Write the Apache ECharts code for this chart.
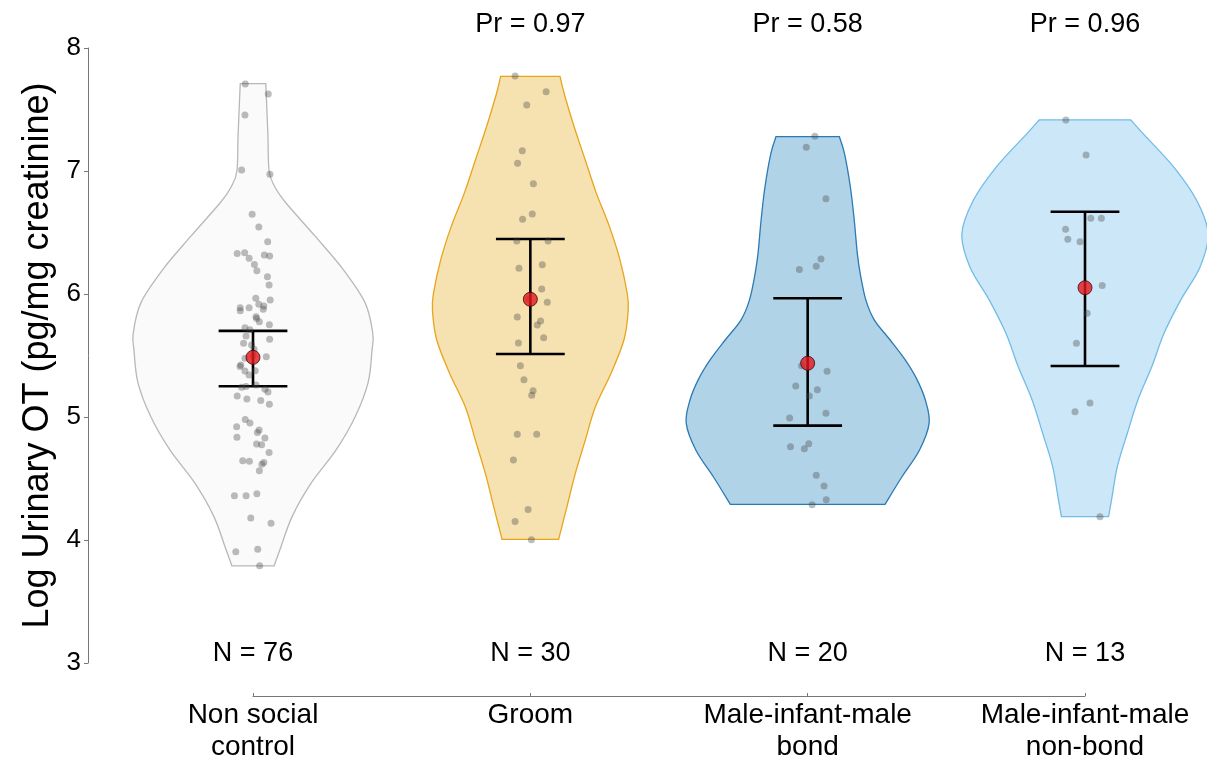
<!DOCTYPE html>
<html>
<head>
<meta charset="utf-8">
<script src="https://cdn.jsdelivr.net/npm/echarts@6/dist/echarts.min.js"></script>
<style>
html, body { margin: 0; padding: 0; background: #fff; }
#main { width: 1207px; height: 759px; }
</style>
</head>
<body>
<div id="main"></div>
<script>
var categories = ['Non social\ncontrol', 'Groom', 'Male-infant-male\nbond', 'Male-infant-male\nnon-bond'];
var nLabels = ['N = 76', 'N = 30', 'N = 20', 'N = 13'];
var prLabels = ['', 'Pr = 0.97', 'Pr = 0.58', 'Pr = 0.96'];
var yTicks = [3, 4, 5, 6, 7, 8];

// individual samples (log urinary OT) and horizontal jitter (x-axis units)
var nonSocialValues = [7.707, 7.626, 7.455, 7.008, 6.973, 6.648, 6.545, 6.425, 6.33, 6.336, 6.29, 6.317, 6.309, 6.24, 6.19, 6.14, 6.073, 5.965, 5.951, 5.916, 5.902, 5.889, 5.889, 5.864, 5.876, 5.816,
  5.80, 5.775, 5.75, 5.726, 5.659, 5.632, 5.60, 5.585, 5.49, 5.477, 5.423, 5.41, 5.374, 5.377, 5.341, 5.241, 5.247, 5.225, 5.203, 5.171, 5.146, 5.135, 5.103, 4.98, 4.951, 4.921, 4.894, 4.875, 4.835, 4.829, 4.78, 4.775, 4.712, 4.645, 4.64, 4.63, 4.615, 4.563, 4.36, 4.36, 4.377, 4.179, 4.136, 3.905, 3.924, 3.79,
  5.50, 5.71, 5.26, 5.55];
var nonSocialJitter = [-0.028, 0.055, -0.029, -0.041, 0.061, -0.003, 0.021, 0.053, -0.057, -0.030, -0.014, 0.041, 0.060, 0.005, 0.014, 0.052, 0.058, 0.010, 0.062, 0.021, 0.039, -0.046, -0.014, -0.046, 0.037, 0.011,
  0.013, 0.023, 0.059, -0.029, -0.025, 0.060, -0.034, -0.005, 0.048, -0.029, -0.044, -0.047, -0.029, 0.008, -0.014, -0.041, -0.025, 0.043, 0.054, -0.057, -0.022, 0.028, 0.059, -0.028, -0.011, -0.059, 0.022, 0.016, -0.058, 0.043, 0.013, 0.031, 0.058, -0.037, -0.013, 0.039, 0.032, 0.023, -0.067, -0.025, 0.014, -0.008, 0.065, -0.062, 0.017, 0.024,
  0, -0.011, 0.011, 0.004];
var groomValues = [7.772, 7.645, 7.537, 7.165, 7.062, 6.897, 6.65, 6.607, 6.431, 6.431, 6.209, 6.238, 6.041, 5.933, 5.813, 5.78, 5.748, 5.645, 5.602, 5.417, 5.303, 5.214, 5.176, 4.859, 4.859, 4.65, 4.247, 4.15, 4.003, 5.96];
var groomJitter = [-0.055, 0.057, -0.013, -0.029, -0.046, 0.011, 0.007, -0.028, -0.049, 0.064, -0.041, 0.043, 0.041, 0.061, -0.047, 0.037, 0.025, 0.048, -0.043, -0.036, -0.023, 0.010, 0.005, -0.047, 0.023, -0.061, -0.008, -0.055, 0.004, -0.007];
var bondValues = [7.282, 7.193, 6.775, 6.285, 6.225, 6.2, 5.417, 5.371, 5.252, 5.222, 5.171, 5.03, 4.992, 4.759, 4.783, 4.742, 4.526, 4.439, 4.328, 4.287];
var bondJitter = [0.026, -0.005, 0.066, 0.048, 0.031, -0.030, -0.022, 0.070, -0.043, 0.035, 0.006, 0.066, -0.065, -0.062, 0.004, -0.012, 0.031, 0.059, 0.067, 0.016];
var nonBondValues = [7.415, 7.13, 6.615, 6.615, 6.526, 6.445, 6.425, 6.07, 5.843, 5.599, 5.114, 5.043, 4.19];
var nonBondJitter = [-0.069, 0.004, 0.021, 0.059, -0.070, -0.062, -0.018, 0.062, 0.008, -0.031, 0.018, -0.036, 0.054];

// group summaries
var means = [5.485, 5.957, 5.437, 6.051];
var lower = [5.25, 5.512, 4.93, 5.415];
var upper = [5.70, 6.447, 5.965, 6.669];

// violin density outlines: levels (y) and half-widths (x-axis units)
var nonSocialLevels = [3.79, 3.92, 4.19, 4.46, 4.73, 5.0, 5.28, 5.54, 5.68, 5.93, 6.2, 6.47, 6.74, 6.87, 7.0, 7.28, 7.5, 7.71];
var nonSocialWidths = [0.076, 0.097, 0.141, 0.209, 0.299, 0.368, 0.415, 0.429, 0.432, 0.404, 0.325, 0.224, 0.119, 0.079, 0.058, 0.054, 0.050, 0.046];
var groomLevels = [4.005, 4.27, 4.54, 4.81, 5.08, 5.36, 5.63, 5.87, 6.01, 6.28, 6.55, 6.82, 7.09, 7.36, 7.63, 7.77];
var groomWidths = [0.102, 0.132, 0.162, 0.198, 0.234, 0.292, 0.338, 0.353, 0.349, 0.323, 0.285, 0.238, 0.198, 0.158, 0.122, 0.107];
var bondLevels = [4.29, 4.51, 4.73, 4.95, 5.14, 5.31, 5.47, 5.63, 5.79, 5.95, 6.16, 6.33, 6.60, 6.87, 7.14, 7.28];
var bondWidths = [0.279, 0.339, 0.403, 0.438, 0.424, 0.393, 0.350, 0.296, 0.240, 0.210, 0.190, 0.179, 0.168, 0.154, 0.133, 0.114];
var nonBondLevels = [4.19, 4.33, 4.60, 4.87, 5.14, 5.41, 5.68, 5.95, 6.22, 6.49, 6.76, 7.03, 7.31, 7.415];
var nonBondWidths = [0.085, 0.096, 0.117, 0.153, 0.191, 0.241, 0.285, 0.345, 0.415, 0.444, 0.403, 0.321, 0.207, 0.165];

var levels = [nonSocialLevels, groomLevels, bondLevels, nonBondLevels];
var widths = [nonSocialWidths, groomWidths, bondWidths, nonBondWidths];
var values = [nonSocialValues, groomValues, bondValues, nonBondValues];
var jitter = [nonSocialJitter, groomJitter, bondJitter, nonBondJitter];

var fills = ['#fafafa', '#f6e1b0', '#b1d3e8', '#cce7f7'];
var strokes = ['#b8b8b8', '#e8a51c', '#2a7ab5', '#72bce8'];
var CAP = 0.124;
var PR_Y = 8.19, N_Y = 3.08;

// smooth curve through points (catmull-rom -> cubic bezier)
function curve(p) {
  var s = '';
  for (var i = 0; i < p.length - 1; i++) {
    var p0 = p[Math.max(i - 1, 0)], p1 = p[i], p2 = p[i + 1], p3 = p[Math.min(i + 2, p.length - 1)];
    var c1 = [p1[0] + (p2[0] - p0[0]) / 6, p1[1] + (p2[1] - p0[1]) / 6];
    var c2 = [p2[0] - (p3[0] - p1[0]) / 6, p2[1] - (p3[1] - p1[1]) / 6];
    s += 'C' + c1.join(',') + ' ' + c2.join(',') + ' ' + p2.join(',');
  }
  return s;
}

function renderViolin(params, api) {
  var g = params.dataIndex, c = g + 1;
  var lv = levels[g], wd = widths[g];
  var left = [], right = [];
  for (var i = 0; i < lv.length; i++) {
    left.push(api.coord([c - wd[i], lv[i]]));
    right.push(api.coord([c + wd[i], lv[i]]));
  }
  var sideL = left.slice().reverse();
  var d = 'M' + sideL[0].join(',') + curve(sideL) + 'L' + right[0].join(',') + curve(right) + 'Z';
  return {
    type: 'path',
    shape: { pathData: d },
    style: { fill: fills[g], stroke: strokes[g], lineWidth: 1.3 }
  };
}

function renderErr(params, api) {
  var c = api.value(0);
  var lo = api.value(1), hi = api.value(2);
  var pLo = api.coord([c, lo]), pHi = api.coord([c, hi]);
  var a1 = api.coord([c - CAP, lo]), a2 = api.coord([c + CAP, lo]);
  var b1 = api.coord([c - CAP, hi]), b2 = api.coord([c + CAP, hi]);
  var st = { stroke: '#000', lineWidth: 2.6 };
  return {
    type: 'group',
    children: [
      { type: 'line', shape: { x1: pLo[0], y1: pLo[1], x2: pHi[0], y2: pHi[1] }, style: st },
      { type: 'line', shape: { x1: a1[0], y1: a1[1], x2: a2[0], y2: a2[1] }, style: st },
      { type: 'line', shape: { x1: b1[0], y1: b1[1], x2: b2[0], y2: b2[1] }, style: st }
    ]
  };
}

var font = 'Liberation Sans, Arial, sans-serif';

function textRenderer(texts) {
  return function (params, api) {
    var p = api.coord([api.value(0), api.value(1)]);
    return {
      type: 'text',
      style: {
        x: p[0], y: p[1], text: texts[params.dataIndex],
        fill: '#000', fontSize: 27, fontFamily: font,
        align: 'center', verticalAlign: 'middle'
      }
    };
  };
}

var pointData = [];
values.forEach(function (vals, g) {
  vals.forEach(function (v, i) { pointData.push([g + 1 + jitter[g][i], v]); });
});

var chart = echarts.init(document.getElementById('main'));

chart.setOption({
  animation: false,
  grid: { left: 253, right: 122, top: 48, bottom: 96, outerBoundsMode: 'none', containLabel: false },
  xAxis: {
    type: 'value', min: 1, max: 4, interval: 1,
    offset: 33,
    splitLine: { show: false },
    axisLine: { show: true, lineStyle: { color: '#777', width: 1 } },
    axisTick: { show: true, inside: true, length: 3, lineStyle: { color: '#777' } },
    axisLabel: {
      margin: 3, fontSize: 28, lineHeight: 32, color: '#000', fontFamily: font,
      formatter: function (v) { return categories[Math.round(v) - 1] || ''; }
    }
  },
  yAxis: {
    type: 'value', min: 3, max: 8, interval: 1,
    offset: 165,
    name: 'Log Urinary OT (pg/mg creatinine)',
    nameLocation: 'middle', nameGap: 28,
    nameTextStyle: { fontSize: 36, color: '#000', fontFamily: font },
    splitLine: { show: false },
    axisLine: { show: true, lineStyle: { color: '#777', width: 1 } },
    axisTick: { show: true, length: 4, lineStyle: { color: '#777' } },
    axisLabel: { margin: 7, fontSize: 26, color: '#000', fontFamily: font,
      formatter: function (v) { return yTicks.indexOf(v) >= 0 ? String(v) : ''; } }
  },
  series: [
    {
      type: 'custom', name: 'violin', clip: false, silent: true,
      renderItem: renderViolin,
      data: means.map(function (m, i) { return [i + 1, m]; })
    },
    {
      type: 'scatter', name: 'samples', clip: false, silent: true,
      symbolSize: 7,
      itemStyle: { color: 'rgba(70,70,70,0.45)' },
      data: pointData
    },
    {
      type: 'custom', name: 'ci', clip: false, silent: true,
      renderItem: renderErr,
      encode: { x: 0, y: [1, 2] },
      data: means.map(function (m, i) { return [i + 1, lower[i], upper[i]]; })
    },
    {
      type: 'scatter', name: 'mean', clip: false, silent: true,
      symbolSize: 14,
      itemStyle: { color: '#e3161b', borderColor: '#3a0a0a', borderWidth: 1 },
      data: means.map(function (m, i) { return [i + 1, m]; })
    },
    {
      type: 'custom', name: 'n', clip: false, silent: true,
      renderItem: textRenderer(nLabels),
      data: nLabels.map(function (t, i) { return [i + 1, N_Y]; })
    },
    {
      type: 'custom', name: 'pr', clip: false, silent: true,
      renderItem: textRenderer(prLabels),
      data: prLabels.map(function (t, i) { return [i + 1, PR_Y]; })
    }
  ]
});
</script>
</body>
</html>
